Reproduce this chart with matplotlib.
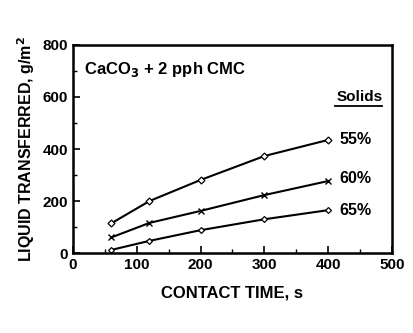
import matplotlib
matplotlib.use("Agg")
import matplotlib.pyplot as plt

# data
time_s = [60, 120, 200, 300, 400]
solids_55 = [114, 200, 281, 373, 435]
solids_60 = [60, 116, 162, 223, 277]
solids_65 = [12, 47, 88, 130, 165]
series_labels = ["55%", "60%", "65%"]

plt.rcParams["font.family"] = ["Liberation Sans", "DejaVu Sans"]
plt.rcParams["font.weight"] = "bold"

fig = plt.figure(figsize=(4.14, 3.33), dpi=100)
ax = fig.add_axes([0.176, 0.240, 0.771, 0.625])

ax.plot(time_s, solids_55, color="black", lw=1.5, marker="D", ms=3.5, mfc="white", mew=0.9)
ax.plot(time_s, solids_60, color="black", lw=1.5, marker="x", ms=4, mew=1.0)
ax.plot(time_s, solids_65, color="black", lw=1.5, marker="D", ms=3.0, mfc="white", mew=0.9)

ax.set_xlim(0, 500)
ax.set_ylim(0, 800)
ax.set_xticks(range(0, 501, 100))
ax.set_yticks(range(0, 801, 200))
ax.set_xticks(range(0, 501, 50), minor=True)
ax.set_yticks(range(0, 801, 100), minor=True)
ax.tick_params(direction="in", length=5, width=1.2, labelsize=11)
ax.tick_params(which="minor", direction="in", length=3, width=1.0)
for lab in ax.get_xticklabels() + ax.get_yticklabels():
    lab.set_fontweight("bold")
for sp in ax.spines.values():
    sp.set_linewidth(1.8)

ax.set_xlabel("CONTACT TIME, s", fontsize=12, fontweight="bold", labelpad=10)
ax.set_ylabel("LIQUID TRANSFERRED, g/m$^\\mathbf{2}$", fontsize=11.5, fontweight="bold", labelpad=4)

ax.text(18, 690, "CaCO$_\\mathbf{3}$ + 2 pph CMC", fontsize=12, fontweight="bold")
ax.text(413, 585, "Solids", fontsize=11, fontweight="bold")
ax.plot([411, 485], [566, 566], color="black", lw=1.3)
ax.text(418, 435, series_labels[0], fontsize=11.5, fontweight="bold", va="center")
ax.text(418, 285, series_labels[1], fontsize=11.5, fontweight="bold", va="center")
ax.text(418, 165, series_labels[2], fontsize=11.5, fontweight="bold", va="center")

fig.savefig("out.png", dpi=100)
